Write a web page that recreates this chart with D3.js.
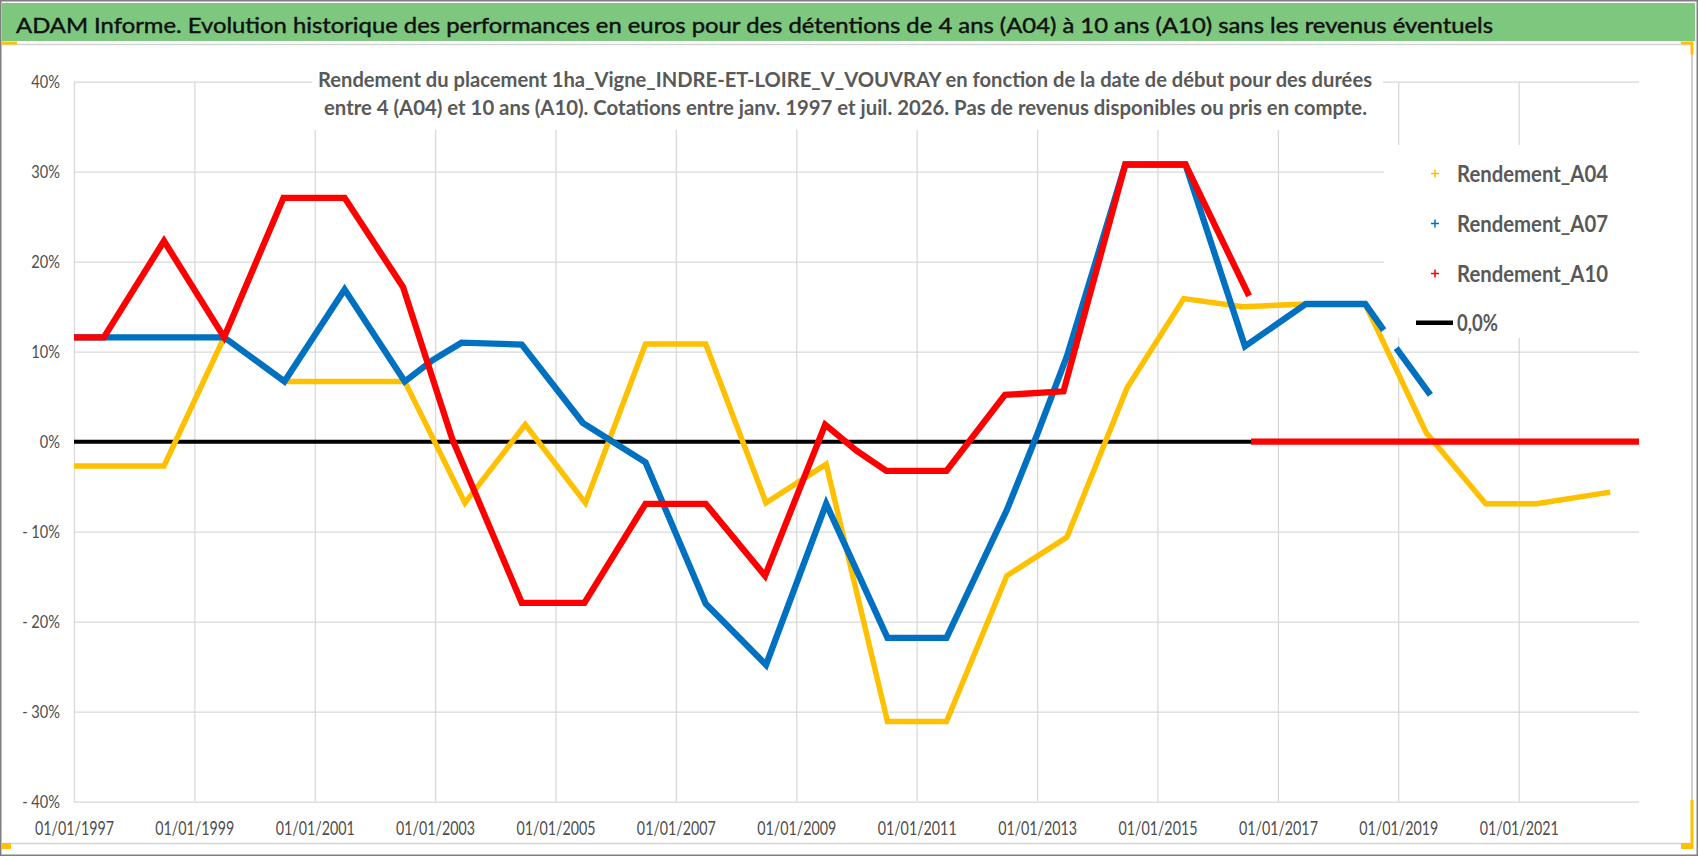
<!DOCTYPE html>
<html><head><meta charset="utf-8">
<script src="https://cdn.jsdelivr.net/npm/d3@7"></script>
<style>
body{margin:0;background:#fff}
svg{display:block}
text{font-family:Lato,"Open Sans","DejaVu Sans",sans-serif}
</style>
</head><body>
<svg id="c" width="1698" height="856"></svg>
<script>
// ---------- data ----------
const titleText = "ADAM Informe. Evolution historique des performances en euros pour des détentions de 4 ans (A04) à 10 ans (A10) sans les revenus éventuels";
const subtitleLines = [
  "Rendement du placement 1ha_Vigne_INDRE-ET-LOIRE_V_VOUVRAY en fonction de la date de début pour des durées",
  "entre 4 (A04) et 10 ans (A10). Cotations entre janv. 1997 et juil. 2026. Pas de revenus disponibles ou pris en compte."
];
const xDomain = ["1997-01-01", "2023-01-01"];
const xTickLabels = ["01/01/1997","01/01/1999","01/01/2001","01/01/2003","01/01/2005","01/01/2007","01/01/2009","01/01/2011","01/01/2013","01/01/2015","01/01/2017","01/01/2019","01/01/2021"];
const yTickValues = [-40,-30,-20,-10,0,10,20,30,40];
const yTickLabels = ["- 40%","- 30%","- 20%","- 10%","0%","10%","20%","30%","40%"];
const seriesNames = ["Rendement_A04","Rendement_A07","Rendement_A10"];
const zeroName = "0,0%";

// Rendement_A04 (% ; date de début)
const a04 = [
  ["1997-01-01",-2.7],["1998-07-01",-2.7],["1999-07-01",11.6],["2000-07-01",6.7],
  ["2002-07-01",6.7],["2003-07-01",-6.8],["2004-07-01",1.9],["2005-07-01",-6.8],
  ["2006-07-01",10.85],["2007-07-01",10.85],["2008-07-01",-6.8],["2009-07-01",-2.5],
  ["2010-07-08",-31.1],["2011-07-01",-31.1],["2012-07-01",-14.9],["2013-07-01",-10.6],
  ["2014-07-01",6.0],["2015-06-10",15.9],["2016-06-01",15.0],["2017-06-20",15.3],
  ["2018-06-15",15.3],["2019-06-20",1.0],["2020-06-15",-6.9],["2021-04-20",-6.9],
  ["2022-07-10",-5.6]
];
// Rendement_A07
const a07 = [
  ["1997-01-01",11.6],["1999-07-01",11.6],["2000-07-01",6.7],["2001-07-01",16.9],
  ["2002-07-01",6.7],["2002-12-20",9.1],["2003-06-10",11.0],["2004-06-10",10.8],
  ["2005-06-15",2.1],["2006-07-01",-2.3],["2007-07-01",-18.0],["2008-07-01",-24.8],
  ["2009-07-01",-6.9],["2010-07-08",-21.8],["2011-07-01",-21.8],["2012-07-01",-7.6],
  ["2013-01-01",0.8],["2013-07-01",9.5],["2014-06-20",30.8],["2015-06-20",30.8],
  ["2016-06-15",10.6],["2017-06-20",15.3],["2018-06-15",15.3],["2018-10-05",12.4],
  [null,null],
  ["2018-12-20",10.4],["2019-07-15",5.2]
];
// Rendement_A10
const a10 = [
  ["1997-01-01",11.6],["1997-07-01",11.6],["1998-07-01",22.3],["1999-07-01",11.6],
  ["2000-06-25",27.1],["2001-07-01",27.1],["2002-06-20",17.2],["2003-04-15",0.3],
  ["2004-06-10",-17.9],["2005-06-25",-17.9],["2006-07-01",-6.9],["2007-07-01",-6.9],
  ["2008-06-25",-14.9],["2009-06-25",1.9],["2010-01-01",-1.0],["2010-07-01",-3.25],
  ["2011-07-01",-3.25],["2012-06-20",5.2],["2013-06-10",5.6],["2014-06-20",30.8],
  ["2015-06-20",30.8],["2016-07-10",16.2],
  [null,null],
  ["2016-07-22",0],["2023-01-01",0]
];
// 0,0% reference line
const zeroLine = [["1997-01-01",0],["2023-01-01",0]];

const seriesColors = ["#FFC000","#0070C0","#FF0000"];

// ---------- layout ----------
const W = 1698, H = 856;
const plot = {left:74, right:1639, top:81.7, bottom:801.7};
const svg = d3.select("#c");
const parse = d3.timeParse("%Y-%m-%d");
const parseTick = d3.timeParse("%d/%m/%Y");

const x = d3.scaleTime().domain(xDomain.map(parse)).range([plot.left, plot.right]);
const y = d3.scaleLinear().domain([-40,40]).range([plot.bottom, plot.top]);

// outer frame
svg.append("rect").attr("x",0.75).attr("y",0.75).attr("width",W-1.5).attr("height",H-1.5)
  .attr("fill","#fff").attr("stroke","#7f7f7f").attr("stroke-width",1.5);
// title bar
svg.append("rect").attr("x",2).attr("y",3).attr("width",W-5).attr("height",38).attr("fill","#7EC77E");
svg.append("line").attr("x1",2).attr("x2",1692).attr("y1",44.5).attr("y2",44.5).attr("stroke","#d4d4d4").attr("stroke-width",1.5);
// chart area frame (right & bottom)
svg.append("line").attr("x1",1692).attr("x2",1692).attr("y1",44).attr("y2",843.5).attr("stroke","#bfbfbf").attr("stroke-width",1.5);
svg.append("line").attr("x1",2).attr("x2",1692).attr("y1",843.5).attr("y2",843.5).attr("stroke","#d4d4d4").attr("stroke-width",1.5);
// selection handles (yellow)
const hy = "#FFC000";
[[1,41.5,16,3],[1681,41.5,12,3],[1690.5,41.5,3,13],[1,843,10,6],[1690.5,800,3,49],[1681,843,12,6]]
  .forEach(r=>svg.append("rect").attr("x",r[0]).attr("y",r[1]).attr("width",r[2]).attr("height",r[3]).attr("fill",hy));

svg.append("text").attr("x",16).attr("y",33).attr("font-size",22).attr("fill","#111")
  .attr("stroke","#111").attr("stroke-width",0.45)
  .attr("textLength",1477).attr("lengthAdjust","spacingAndGlyphs").text(titleText);

// gridlines
const gx = svg.append("g").attr("transform",`translate(0,${plot.bottom})`)
  .call(d3.axisBottom(x).tickValues(xTickLabels.map(parseTick)).tickSize(-(plot.bottom-plot.top)).tickFormat(""));
gx.select(".domain").remove();
gx.selectAll("line").attr("stroke","#d9d9d9").attr("stroke-width",1.3);
const gy = svg.append("g").attr("transform",`translate(${plot.left},0)`)
  .call(d3.axisLeft(y).tickValues(yTickValues).tickSize(-(plot.right-plot.left)).tickFormat(""));
gy.select(".domain").remove();
gy.selectAll("line").attr("stroke","#d9d9d9").attr("stroke-width",1.3);

// subtitle box (covers gridlines)
svg.append("rect").attr("x",312).attr("y",62).attr("width",1071).attr("height",68).attr("fill","#fff");
svg.append("text").attr("x",318).attr("y",87).attr("font-size",21).attr("font-weight",700).attr("fill","#595959")
  .attr("textLength",1054).attr("lengthAdjust","spacingAndGlyphs").text(subtitleLines[0]);
svg.append("text").attr("x",324).attr("y",115).attr("font-size",21).attr("font-weight",700).attr("fill","#595959")
  .attr("textLength",1043).attr("lengthAdjust","spacingAndGlyphs").text(subtitleLines[1]);

// legend box (covers gridlines)
svg.append("rect").attr("x",1384).attr("y",145).attr("width",256).attr("height",193).attr("fill","#fff");

// axis labels
const ax = svg.append("g").attr("transform",`translate(0,${plot.bottom})`)
  .call(d3.axisBottom(x).tickValues(xTickLabels.map(parseTick)).tickSize(0).tickPadding(20)
    .tickFormat((d,i)=>xTickLabels[i]));
ax.select(".domain").remove();
ax.selectAll("text").attr("font-size",18.5).attr("fill","#4d4d4d").attr("font-family","Lato,'Open Sans',sans-serif")
  .attr("textLength",79).attr("lengthAdjust","spacingAndGlyphs");

const ay = svg.append("g").attr("transform",`translate(${plot.left},0)`)
  .call(d3.axisLeft(y).tickValues(yTickValues).tickSize(0).tickPadding(14)
    .tickFormat((d,i)=>yTickLabels[i]));
ay.select(".domain").remove();
ay.selectAll("text").attr("font-size",17).attr("fill","#4d4d4d").attr("font-family","Lato,'Open Sans',sans-serif")
  .each(function(){ const l=this.getComputedTextLength(); d3.select(this).attr("textLength",l*0.86).attr("lengthAdjust","spacingAndGlyphs"); });

// series
const line = d3.line().defined(d=>d[0]!==null).x(d=>x(parse(d[0]))).y(d=>y(d[1]));
svg.append("path").datum(zeroLine).attr("d",line).attr("fill","none").attr("stroke","#000").attr("stroke-width",4);
[a04,a07,a10].forEach((s,i)=>{
  svg.append("path").datum(s).attr("d",line).attr("fill","none")
    .attr("stroke",seriesColors[i]).attr("stroke-width",i===0?5.5:6.3)
    .attr("stroke-linejoin","miter").attr("stroke-linecap","butt");
});

// legend
const legY = [182,232,282];
seriesNames.forEach((n,i)=>{
  const cy = legY[i]-8.5;
  svg.append("path").attr("d",`M${1431},${cy}h8M${1435},${cy-4}v8`).attr("stroke",seriesColors[i]).attr("stroke-width",1.5);
  svg.append("text").attr("x",1457).attr("y",legY[i]).attr("font-size",23.5).attr("font-weight",700).attr("fill","#595959")
    .attr("textLength",151).attr("lengthAdjust","spacingAndGlyphs").text(n);
});
svg.append("line").attr("x1",1416).attr("x2",1453).attr("y1",322.7).attr("y2",322.7).attr("stroke","#000").attr("stroke-width",4.5);
svg.append("text").attr("x",1457).attr("y",331).attr("font-size",23.5).attr("font-weight",700).attr("fill","#595959")
  .attr("textLength",41).attr("lengthAdjust","spacingAndGlyphs").text(zeroName);
</script>
</body></html>
